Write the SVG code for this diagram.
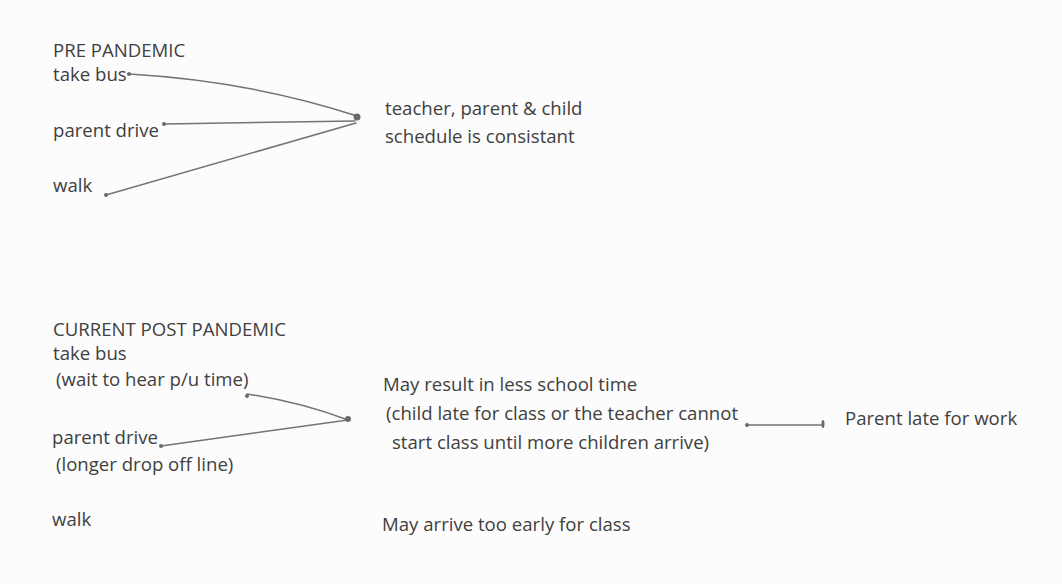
<svg xmlns="http://www.w3.org/2000/svg" width="1062" height="584" viewBox="0 0 1062 584">
<style>
text{font-family:"Open Sans","Liberation Sans",sans-serif;font-size:18.6px;fill:#404040}
.ln{fill:none;stroke:#747474;stroke-width:1.5;stroke-linecap:round}
.dot{fill:#6a6a6a}
</style>
<rect width="1062" height="584" fill="#fcfcfc"/>
<g id="pre-heading"><text x="53" y="57">PRE PANDEMIC</text></g>
<g id="pre-bus"><text x="53" y="81">take bus</text></g>
<g id="pre-drive"><text x="53" y="137">parent drive</text></g>
<g id="pre-walk"><text x="53" y="192">walk</text></g>
<g id="pre-result"><text x="385" y="115">teacher, parent &amp; child</text><text x="385" y="143">schedule is consistant</text></g>
<g id="post-heading"><text x="53" y="336">CURRENT POST PANDEMIC</text></g>
<g id="post-bus"><text x="53" y="360">take bus</text><text x="56" y="386">(wait to hear p/u time)</text></g>
<g id="post-drive"><text x="52" y="444">parent drive</text><text x="56" y="471">(longer drop off line)</text></g>
<g id="post-walk"><text x="52" y="526">walk</text></g>
<g id="post-result"><text x="383" y="391">May result in less school time</text><text x="386" y="420">(child late for class or the teacher cannot</text><text x="392" y="449">start class until more children arrive)</text></g>
<g id="work"><text x="845" y="425">Parent late for work</text></g>
<g id="early"><text x="382" y="531">May arrive too early for class</text></g>
<g id="connectors">
<path class="ln" d="M129 74 Q 250 81 357 116"/>
<path class="ln" d="M164 124 L 355 121"/>
<path class="ln" d="M106 195 L 356 123"/>
<circle class="dot" cx="357" cy="117" r="3.5"/>
<circle class="dot" cx="129" cy="74" r="2"/>
<circle class="dot" cx="164" cy="124" r="2"/>
<circle class="dot" cx="106" cy="195" r="2"/>
<path class="ln" d="M247 394 Q 300 402 348 420"/>
<path class="ln" d="M161 446 L 348 420"/>
<circle class="dot" cx="348" cy="419" r="3"/>
<circle class="dot" cx="247" cy="396" r="2"/>
<circle class="dot" cx="161" cy="446" r="2"/>
<path class="ln" d="M747 425 L 822 425"/>
<circle class="dot" cx="747" cy="425" r="2"/>
<ellipse class="dot" cx="823" cy="424" rx="1.5" ry="4"/>
</g>
</svg>
